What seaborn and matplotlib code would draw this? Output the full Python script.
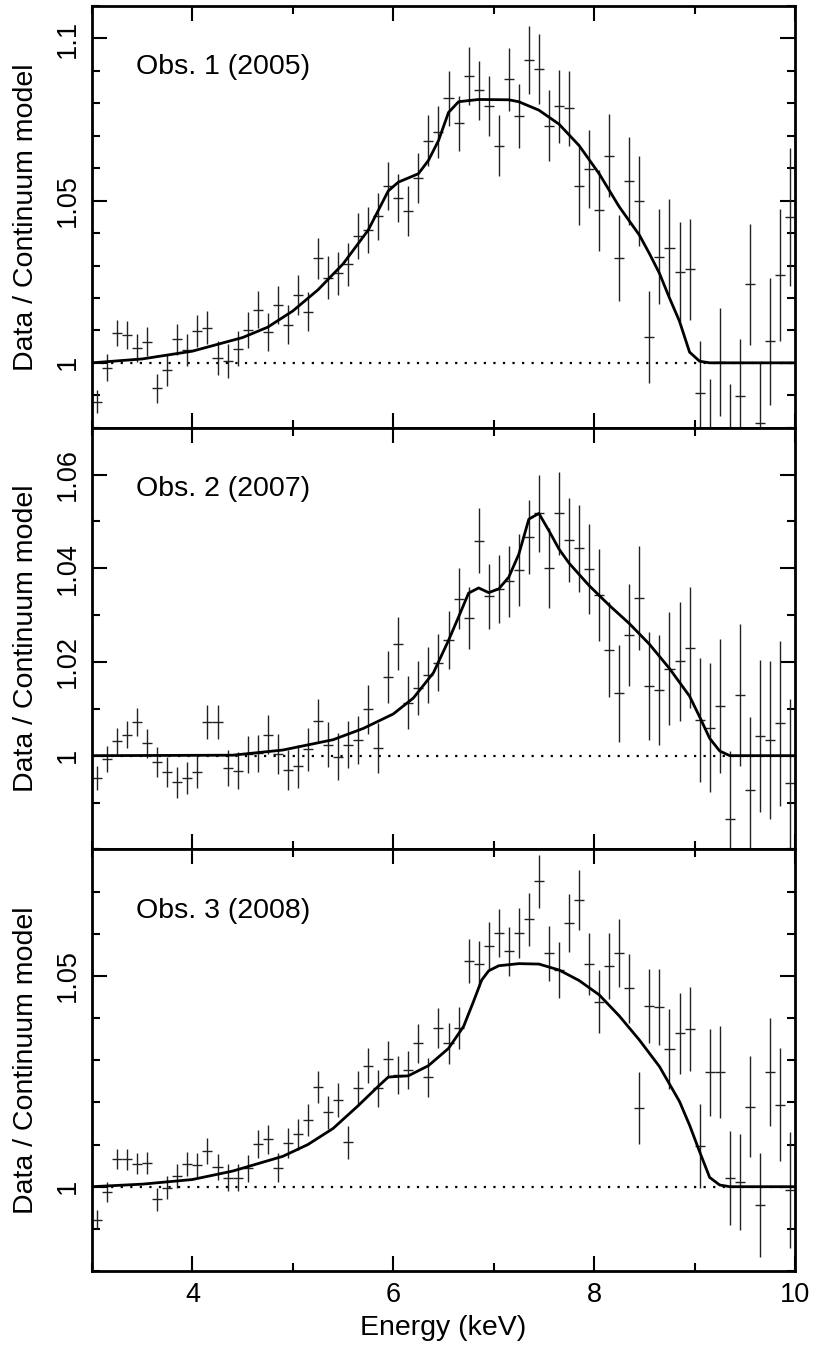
import numpy as np
import pandas as pd
import matplotlib
matplotlib.use("Agg")
import matplotlib.pyplot as plt
from matplotlib.ticker import FixedLocator, MultipleLocator
import seaborn as sns

# ── data (bin centres in keV, ratio, 1-sigma half error) ──
energy = [3.05, 3.15, 3.25, 3.35, 3.45, 3.55, 3.65, 3.75, 3.85, 3.95,
          4.05, 4.15, 4.25, 4.35, 4.45, 4.55, 4.65, 4.75, 4.85, 4.95,
          5.05, 5.15, 5.25, 5.35, 5.45, 5.55, 5.65, 5.75, 5.85, 5.95,
          6.05, 6.15, 6.25, 6.35, 6.45, 6.55, 6.65, 6.75, 6.85, 6.95,
          7.05, 7.15, 7.25, 7.35, 7.45, 7.55, 7.65, 7.75, 7.85, 7.95,
          8.05, 8.15, 8.25, 8.35, 8.45, 8.55, 8.65, 8.75, 8.85, 8.95,
          9.05, 9.15, 9.25, 9.35, 9.45, 9.55, 9.65, 9.75, 9.85, 9.95]
bin_half = 0.05

ratio_2005 = [0.9880, 0.9985, 1.0092, 1.0087, 1.0046, 1.0065, 0.9921, 0.9978, 1.0072, 1.0039,
              1.0099, 1.0108, 1.0015, 1.0005, 1.0044, 1.0102, 1.0164, 1.0095, 1.0179, 1.0118,
              1.0210, 1.0158, 1.0322, 1.0263, 1.0276, 1.0304, 1.0391, 1.0409, 1.0452, 1.0544,
              1.0509, 1.0467, 1.0570, 1.0685, 1.0711, 1.0815, 1.0738, 1.0884, 1.0840, 1.0791,
              1.0670, 1.0874, 1.0760, 1.0933, 1.0906, 1.0731, 1.0791, 1.0785, 1.0546, 1.0597,
              1.0470, 1.0638, 1.0324, 1.0560, 1.0500, 1.0080, 1.0327, 1.0355, 1.0281, 1.0288,
              0.9908, 0.9785, 1.0002, 0.9765, 0.9898, 1.0242, 0.9814, 1.0066, 1.0271, 1.0450]
err_2005 = [0.0036, 0.0041, 0.0041, 0.0043, 0.0043, 0.0044, 0.0045, 0.0048, 0.0049, 0.0050,
            0.0049, 0.0051, 0.0052, 0.0053, 0.0054, 0.0055, 0.0056, 0.0058, 0.0059, 0.0060,
            0.0061, 0.0061, 0.0063, 0.0065, 0.0066, 0.0067, 0.0070, 0.0071, 0.0072, 0.0074,
            0.0074, 0.0077, 0.0078, 0.0079, 0.0081, 0.0084, 0.0086, 0.0089, 0.0091, 0.0092,
            0.0094, 0.0097, 0.0099, 0.0104, 0.0107, 0.0109, 0.0112, 0.0116, 0.0120, 0.0121,
            0.0126, 0.0128, 0.0132, 0.0136, 0.0139, 0.0141, 0.0146, 0.0150, 0.0153, 0.0156,
            0.0158, 0.0164, 0.0167, 0.0171, 0.0174, 0.0186, 0.0189, 0.0196, 0.0204, 0.0213]

ratio_2007 = [0.9952, 0.9993, 1.0032, 1.0045, 1.0072, 1.0026, 0.9986, 0.9965, 0.9943, 0.9953,
              0.9965, 1.0072, 1.0072, 0.9974, 0.9968, 1.0003, 1.0005, 1.0045, 1.0003, 0.9970,
              0.9977, 1.0014, 1.0074, 1.0023, 0.9998, 1.0023, 1.0033, 1.0099, 1.0017, 1.0168,
              1.0239, 1.0113, 1.0145, 1.0173, 1.0198, 1.0246, 1.0335, 1.0294, 1.0459, 1.0340,
              1.0356, 1.0372, 1.0396, 1.0466, 1.0517, 1.0401, 1.0517, 1.0460, 1.0443, 1.0399,
              1.0343, 1.0226, 1.0133, 1.0257, 1.0337, 1.0148, 1.0140, 1.0186, 1.0201, 1.0230,
              1.0076, 1.0060, 1.0106, 0.9865, 1.0130, 0.9927, 1.0042, 1.0033, 1.0069, 0.9941]
err_2007 = [0.0026, 0.0027, 0.0028, 0.0028, 0.0030, 0.0031, 0.0032, 0.0032, 0.0033, 0.0034,
            0.0035, 0.0036, 0.0037, 0.0038, 0.0039, 0.0040, 0.0040, 0.0041, 0.0043, 0.0043,
            0.0045, 0.0046, 0.0048, 0.0048, 0.0050, 0.0050, 0.0051, 0.0052, 0.0053, 0.0055,
            0.0056, 0.0057, 0.0058, 0.0060, 0.0061, 0.0062, 0.0065, 0.0067, 0.0069, 0.0070,
            0.0072, 0.0075, 0.0077, 0.0079, 0.0082, 0.0085, 0.0088, 0.0090, 0.0093, 0.0096,
            0.0099, 0.0101, 0.0104, 0.0109, 0.0111, 0.0115, 0.0118, 0.0121, 0.0126, 0.0129,
            0.0133, 0.0137, 0.0142, 0.0145, 0.0151, 0.0156, 0.0163, 0.0169, 0.0176, 0.0181]

ratio_2008 = [0.9922, 0.9988, 1.0065, 1.0065, 1.0055, 1.0057, 0.9970, 0.9998, 1.0025, 1.0054,
              1.0051, 1.0085, 1.0046, 1.0021, 1.0021, 1.0044, 1.0101, 1.0112, 1.0045, 1.0104,
              1.0124, 1.0158, 1.0237, 1.0176, 1.0206, 1.0105, 1.0233, 1.0287, 1.0233, 1.0302,
              1.0265, 1.0277, 1.0340, 1.0259, 1.0377, 1.0340, 1.0376, 1.0536, 1.0528, 1.0572,
              1.0601, 1.0558, 1.0601, 1.0634, 1.0724, 1.0554, 1.0514, 1.0625, 1.0679, 1.0528,
              1.0439, 1.0524, 1.0554, 1.0471, 1.0186, 1.0429, 1.0426, 1.0327, 1.0364, 1.0374,
              1.0097, 1.0271, 1.0273, 1.0021, 1.0012, 1.0190, 0.9956, 1.0271, 1.0194, 0.9992]
err_2008 = [0.0022, 0.0024, 0.0024, 0.0025, 0.0025, 0.0026, 0.0027, 0.0028, 0.0028, 0.0029,
            0.0029, 0.0030, 0.0031, 0.0032, 0.0032, 0.0032, 0.0033, 0.0034, 0.0035, 0.0036,
            0.0036, 0.0037, 0.0038, 0.0039, 0.0040, 0.0040, 0.0041, 0.0042, 0.0043, 0.0044,
            0.0044, 0.0045, 0.0046, 0.0047, 0.0047, 0.0049, 0.0050, 0.0052, 0.0054, 0.0055,
            0.0057, 0.0058, 0.0059, 0.0062, 0.0063, 0.0065, 0.0067, 0.0069, 0.0071, 0.0074,
            0.0075, 0.0078, 0.0081, 0.0082, 0.0085, 0.0088, 0.0091, 0.0095, 0.0096, 0.0099,
            0.0100, 0.0104, 0.0109, 0.0111, 0.0114, 0.0119, 0.0123, 0.0128, 0.0134, 0.0138]

# model curves (energy knots, ratio)
model_e_2005 = [3.0, 3.5, 4.0, 4.5, 4.75, 5.0, 5.25, 5.5, 5.75, 5.95,
                6.05, 6.25, 6.35, 6.45, 6.55, 6.65, 6.85, 7.15, 7.25, 7.45,
                7.65, 7.85, 8.05, 8.25, 8.45, 8.55, 8.65, 8.75, 8.85, 8.95,
                9.05, 9.15, 10.0]
model_2005 = [1.0, 1.0012, 1.0036, 1.0078, 1.0110, 1.0160, 1.0225, 1.0305, 1.0409, 1.0530,
              1.0557, 1.0583, 1.0624, 1.0685, 1.0772, 1.0805, 1.0812, 1.0811, 1.0805, 1.0779,
              1.0736, 1.0670, 1.0583, 1.0481, 1.0394, 1.0337, 1.0276, 1.0200, 1.0128, 1.0033,
              1.0005, 1.0, 1.0]

model_e_2007 = [3.0, 4.4, 4.9, 5.4, 5.7, 6.0, 6.2, 6.4, 6.55, 6.65,
                6.75, 6.85, 6.95, 7.05, 7.15, 7.25, 7.35, 7.45, 7.55, 7.65,
                7.75, 7.95, 8.15, 8.35, 8.55, 8.75, 8.95, 9.05, 9.15, 9.25,
                9.35, 10.0]
model_2007 = [1.0, 1.0001, 1.0012, 1.0034, 1.0058, 1.0089, 1.0123, 1.0177, 1.0246, 1.0296,
              1.0347, 1.0358, 1.0348, 1.0356, 1.0381, 1.0430, 1.0505, 1.0517, 1.0480, 1.0441,
              1.0411, 1.0363, 1.0321, 1.0282, 1.0238, 1.0186, 1.0127, 1.0083, 1.0037, 1.0010,
              1.0, 1.0]

model_e_2008 = [3.0, 3.5, 4.0, 4.4, 4.9, 5.15, 5.4, 5.65, 5.85, 5.95,
                6.15, 6.35, 6.55, 6.7, 6.8, 6.88, 6.95, 7.05, 7.25, 7.45,
                7.65, 7.85, 8.05, 8.25, 8.45, 8.65, 8.85, 8.95, 9.05, 9.15,
                9.25, 9.35, 10.0]
model_2008 = [1.0, 1.0006, 1.0017, 1.0037, 1.0072, 1.0100, 1.0138, 1.0192, 1.0238, 1.0260,
              1.0263, 1.0287, 1.0328, 1.0380, 1.0440, 1.0490, 1.0512, 1.0524, 1.0529, 1.0528,
              1.0514, 1.0489, 1.0455, 1.0405, 1.0348, 1.0285, 1.0202, 1.0146, 1.0083, 1.0022,
              1.0004, 1.0, 1.0]

titles = ["Obs. 1 (2005)", "Obs. 2 (2007)", "Obs. 3 (2008)"]
ylims = [(0.98, 1.11), (0.98, 1.07), (0.98, 1.08)]
yticks = [[1.0, 1.05, 1.1], [1.0, 1.02, 1.04, 1.06], [1.0, 1.05]]
ytick_labels = [["1", "1.05", "1.1"], ["1", "1.02", "1.04", "1.06"], ["1", "1.05"]]

panels = [
    (ratio_2005, err_2005, model_e_2005, model_2005),
    (ratio_2007, err_2007, model_e_2007, model_2007),
    (ratio_2008, err_2008, model_e_2008, model_2008),
]

# ── style ──
sns.set_style("ticks", {"axes.edgecolor": "black", "text.color": "black",
                        "axes.labelcolor": "black", "xtick.color": "black",
                        "ytick.color": "black"})
plt.rcParams["font.family"] = ["Liberation Sans", "DejaVu Sans"]
plt.rcParams["font.size"] = 19

fig, axes = plt.subplots(3, 1, figsize=(8.16, 13.45), dpi=100, sharex=True)
fig.subplots_adjust(left=0.1127, right=0.9743, top=0.9955, bottom=0.055, hspace=0)

for i, ax in enumerate(axes):
    ratio, err, me, mv = panels[i]

    # unity reference line, dotted
    ax.axhline(1.0, color="black", lw=1.6, ls=(0, (1, 3.3)), zorder=1)
    ax.errorbar(energy, ratio, xerr=bin_half, yerr=err, fmt="none",
                ecolor="#222222", elinewidth=1.0, capsize=0, zorder=2)

    mdf = pd.DataFrame({"E": me, "ratio": mv})
    sns.lineplot(data=mdf, x="E", y="ratio", ax=ax, color="black", lw=2.0,
                 estimator=None, sort=False, zorder=3)

    ax.set_xlim(3, 10)
    ax.set_ylim(*ylims[i])
    ax.yaxis.set_major_locator(FixedLocator(yticks[i]))
    ax.set_yticklabels(ytick_labels[i], rotation=90, va="center")
    ax.yaxis.set_minor_locator(MultipleLocator(0.01))
    ax.xaxis.set_major_locator(MultipleLocator(2))
    ax.xaxis.set_minor_locator(MultipleLocator(1))

    ax.tick_params(which="both", direction="in", top=True, right=True,
                   width=1.5, labelsize=19.5, colors="black")
    ax.tick_params(which="major", length=11, pad=8)
    ax.tick_params(which="minor", length=6)
    for sp in ax.spines.values():
        sp.set_linewidth(2.0)
        sp.set_color("black")

    ax.set_ylabel("Data / Continuum model", fontsize=20.5, color="black")
    ax.yaxis.set_label_coords(-0.076, 0.5)
    ax.set_xlabel("")
    ax.text(0.063, 0.855, titles[i], transform=ax.transAxes,
            fontsize=20.5, va="center", ha="left", color="black")

axes[-1].set_xlabel("Energy (keV)", fontsize=20.5, labelpad=5, color="black")

fig.savefig("out.png", dpi=100)
